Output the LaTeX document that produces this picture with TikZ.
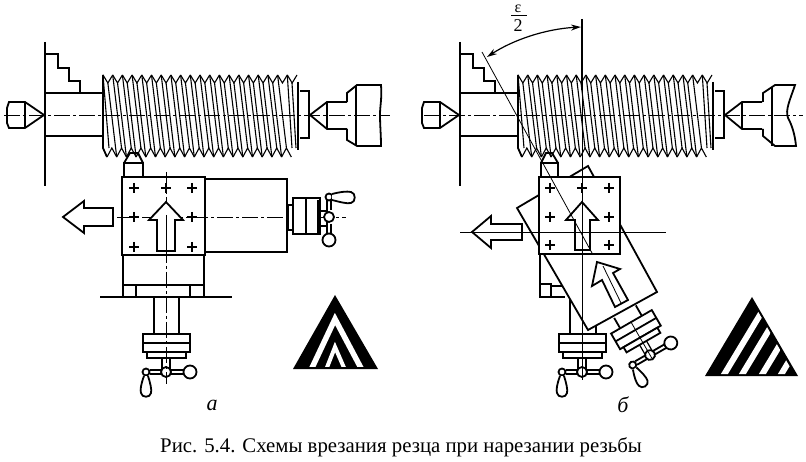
\documentclass[tikz,border=0pt]{standalone}
\usepackage{fontspec}
\setmainfont{Liberation Serif}
\usetikzlibrary{arrows.meta}
\tikzset{
  thick line/.style={line width=1.8pt,line join=miter,draw=black},
  medium line/.style={line width=1.2pt,draw=black},
  thin line/.style={line width=0.8pt,draw=black},
  thread line/.style={line width=1.1pt,draw=black},
  axis line/.style={line width=0.9pt,draw=black,dash pattern=on 16pt off 3pt on 3pt off 3pt},
  white thick/.style={thick line,fill=white},
  caption text/.style={font=\fontsize{20.8pt}{22pt}\selectfont,inner sep=0pt,anchor=base west},
  letter text/.style={font=\fontsize{22pt}{24pt}\itshape\selectfont,inner sep=0pt},
}
\newcommand{\CrossMark}[2]{\draw[medium line] (#1-5,#2)--(#1+5,#2) (#1,#2-5)--(#1,#2+5);}
% lathe work zone: chuck, spindle, threaded bar, tail centre
\newcommand{\LatheBar}{%
  \draw[thick line] (45,42)--(45,186);
  \draw[thick line] (45,54)--(58,54)--(58,68)--(69,68)--(69,81)--(80,81)--(80,93);
  \draw[thick line] (45,93)--(102,93) (45,136)--(102,136);
  % left centre
  \draw[thick line] (44,115)--(25,102)--(9,102)--(7,108)--(7,123)--(9,128)--(25,128)--cycle (25,102)--(25,128);
  % thread
  \foreach \i in {0,...,19}{
    \pgfmathsetmacro{\xa}{103+9.7*\i}
    \pgfmathsetmacro{\xb}{\xa+4.85}
    \pgfmathsetmacro{\xc}{\xa+9.7}
    \draw[thread line] (\xa,75)--(\xb,83)--(\xc,75);
    \ifnum\i<19
      \draw[thread line] (\xa+4,157)--(\xb+4,148)--(\xc+4,157);
    \fi
    \ifnum\i<18
      \draw[thread line] (\xb,83)--(\xb+8.85,157);
      \draw[thread line] (\xc,75)--(\xc+8.85,148);
    \fi
  }
  \draw[thread line] (287.3,75)--(292,148) (292,83)--(296,148);
  \draw[thread line] (103,75)--(109,148);
  \draw[thick line] (103,75)--(103,148)--(107,157);
  \draw[thick line] (298,82)--(298,150);
  \draw[thick line] (300,91)--(309,91)--(309,138)--(300,138);
  % tail centre
  \draw[thick line] (310,115)--(327,102)--(347,102) (310,115)--(327,129)--(347,129) (327,102)--(327,129);
}
% vertical feed screw; origin on the hub
\newcommand{\FeedWheel}{%
  \draw[white thick] (-23,-38) rectangle (24,-20);
  \draw[thick line] (-23,-29)--(24,-29);
  \draw[white thick] (-19,-20) rectangle (20,-14);
  \draw[medium line] (-4,-14)--(-4,-3) (4,-14)--(4,-3);
  \draw[thick line] (-16,-2)--(-4,-2) (-16,2)--(-4,2) (4,-2)--(18,-2) (4,2)--(18,2);
  \draw[white thick] (0,0) circle (5);
  \draw[white thick] (-20,0) circle (3.5);
  \draw[white thick] (24,0) circle (6.5);
  \draw[white thick] (-22,4) .. controls (-25,12) and (-26,18) .. (-25,21)
     .. controls (-24,26) and (-16,26) .. (-15,21) .. controls (-14,18) and (-16,10) .. (-18,4);
}
\begin{document}
\begin{tikzpicture}[x=1pt,y=-1pt]
\useasboundingbox (0,0) rectangle (806,462);
\fill[white] (0,0) rectangle (806,462);

% ---------- a ----------
\LatheBar
\draw[thick line] (347,102)--(347,93)--(357,85)--(381,85) .. controls (382,100) and (380,105) .. (380,115) .. controls (380,125) and (381,135) .. (381,146)--(357,146)--(347,140)--(347,129);
\draw[thick line] (356,85)--(356,146);
\draw[axis line] (4,115)--(390,115);
% cutter
\draw[thick line] (124,163)--(130,153)--(138,153)--(143,163);
\draw[thick line] (124,177)--(124,163)--(143,163)--(143,177);
% slide
\draw[white thick] (205,179) rectangle (287,252);
\draw[white thick] (122,177) rectangle (205,255);
\foreach \cx in {134,166,192}{\foreach \cy in {188,217,247}{\CrossMark{\cx}{\cy}}}
% slide base
\draw[thick line] (123,255)--(123,297) (204,255)--(204,297) (123,285)--(204,285);
\draw[thick line] (136,285)--(136,297) (190,285)--(190,297);
\draw[thick line] (100,297)--(232,297);
\draw[thick line] (154,297)--(154,334) (179,297)--(179,334);
\begin{scope}[shift={(166,372)}]\FeedWheel\end{scope}
% axes
\draw[axis line] (166,172)--(166,384);
\draw[axis line] (117,217)--(346,217);
% feed arrows
\draw[white thick] (166,202)--(149,220)--(157,220)--(157,251)--(175,251)--(175,220)--(183,220)--cycle;
\draw[thin line] (166,215)--(166,251);
\draw[white thick] (63,217)--(84,201)--(84,208)--(113,208)--(113,226)--(84,226)--(84,233)--cycle;
% cross screw
\draw[medium line] (288,205) rectangle (293,230);
\draw[white thick] (293,198) rectangle (320,234);
\draw[thick line] (306,198)--(306,234);
\draw[thick line] (320,201) rectangle (318,232);
\draw[thick line] (320,211) rectangle (327,226);
\draw[thick line] (327,198)--(327,210) (331,198)--(331,210) (327,224)--(327,236) (331,224)--(331,236);
\draw[white thick] (329,217) circle (5);
\draw[white thick] (329,197) circle (3.5);
\draw[white thick] (329,240) circle (6.5);
\draw[white thick] (332,194) .. controls (340,192) and (347,191) .. (351,192)
   .. controls (356,193) and (356,202) .. (351,203) .. controls (347,204) and (340,202) .. (332,200);
% triangle a
\fill[black] (335,295)--(293,369)--(378,369)--cycle;
\begin{scope}
  \clip (280,280) rectangle (390,366.5);
  \draw[white,line width=5.5pt,line join=miter] (311,370)--(335,319)--(362,370);
  \draw[white,line width=4pt,line join=miter] (326,370)--(335,347)--(345,370);
\end{scope}
\node[letter text] (lettera) at (212,405) {a};

% ---------- b ----------
\begin{scope}[shift={(415,0)}]
\LatheBar
\end{scope}
\draw[thick line] (763,102)--(763,93)--(775,85)--(795,85) .. controls (790,100) and (785,110) .. (788,118) .. controls (792,125) and (795,135) .. (796,146)--(775,146)--(763,136)--(763,129);
\draw[thick line] (772,87)--(772,146);
\draw[axis line] (424,115)--(803,115);
% cutter
\draw[thick line] (541,163)--(546,153)--(552,153)--(558,163);
\draw[thick line] (541,177)--(541,163)--(558,163)--(558,177);
% base
\draw[thick line] (540,254)--(540,297)--(551,297)--(551,284)--(540,284);
\draw[thick line] (551,286)--(565,286) (551,297)--(565,297);
\draw[thick line] (570,290)--(570,333) (596,320)--(596,333);
\begin{scope}[shift={(582,372)}]\FeedWheel\end{scope}
% swivel slide
\draw[white thick] (517,208)--(588,166)--(657,292)--(588,330)--cycle;
\begin{scope}[shift={(650,355)},rotate=30]
  \draw[thick line] (-12.5,-38)--(-12.5,-50) (12.5,-38)--(12.5,-50);
  \FeedWheel
  \draw[thin line] (0,-38)--(0,5);
\end{scope}
% swivel arrow
\draw[white thick] (597,262)--(592,286)--(602,280)--(615,307)--(628,300)--(613,273)--(620,269)--cycle;
\draw[thin line] (603,266)--(621,303);
% square slide
\draw[white thick] (539,177) rectangle (620,254);
\foreach \cx in {550,582,609}{\foreach \cy in {188,217,245}{\CrossMark{\cx}{\cy}}}
% vertical arrow
\draw[white thick] (582,202)--(566,220)--(575,220)--(575,250)--(590,250)--(590,220)--(598,220)--cycle;
% left arrow
\draw[white thick] (472,232)--(491,216)--(491,224)--(522,224)--(522,240)--(491,240)--(491,248)--cycle;
% axes and angle
\coordinate (angA) at (482,52);
\coordinate (angB) at (592,253);
\coordinate (vertT) at (582,19);
\coordinate (vertB) at (582,380);
\draw[thin line] (angA)--(angB);
\draw[medium line] (vertT)--(582,90);
\draw[thin line] (582,90)--(vertB);
\draw[thin line] (460,232)--(666,232);
\draw[medium line,{Stealth[length=10pt,width=6pt]}-{Stealth[length=10pt,width=6pt]}] (487,57) .. controls (513,40) and (545,29) .. (581,27);
\node[inner sep=0pt,font=\fontsize{16pt}{16pt}\selectfont] (eps) at (518,8.5) {ε};
\draw[line width=1.4pt] (511,15.5)--(527,15.5);
\node[inner sep=0pt,font=\fontsize{18pt}{18pt}\selectfont] (two) at (518,26) {2};
% triangle b
\fill[black] (752,297)--(705,376)--(798,376)--cycle;
\begin{scope}
  \clip (752,301)--(708,374)--(794,374)--cycle;
  \draw[white,line width=6pt] (722,378)--(772,295);
  \draw[white,line width=6pt] (740,378)--(790,295);
  \draw[white,line width=6pt] (760,378)--(810,295);
  \draw[white,line width=6pt] (779,378)--(829,295);
\end{scope}
\node[letter text] (letterb) at (623,405) {б};

% ---------- caption ----------
\node[caption text] (caption) at (160,452) {Рис. 5.4. Схемы врезания резца при нарезании резьбы};
\end{tikzpicture}
\end{document}
